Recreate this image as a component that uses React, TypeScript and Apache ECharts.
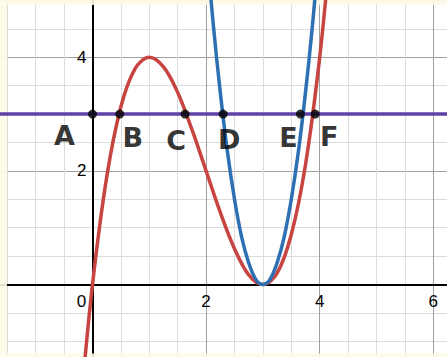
import React, { useEffect, useRef } from "react";
import * as echarts from "echarts";

// Cubic curve (red), sampled along x
const redX = [-0.2, 0, 0.25, 0.5, 0.75, 1, 1.25, 1.5, 1.75, 2, 2.25, 2.5, 2.75, 3, 3.25, 3.5, 3.75, 4, 4.2];
const redY = [-2.05, 0, 1.89, 3.13, 3.8, 4, 3.83, 3.38, 2.73, 2, 1.27, 0.63, 0.17, 0, 0.2, 0.88, 2.11, 4, 6.05];

// Parabola (blue), sampled along x
const blueX = [2, 2.125, 2.25, 2.375, 2.5, 2.625, 2.75, 2.875, 3, 3.125, 3.25, 3.375, 3.5, 3.625, 3.75, 3.875, 4];
const blueY = [6, 4.59, 3.38, 2.34, 1.5, 0.84, 0.38, 0.09, 0, 0.09, 0.38, 0.84, 1.5, 2.34, 3.38, 4.59, 6];

// Horizontal line (purple)
const levelY = 3;

// Marked intersection points on the horizontal line
const pointNames = ["A", "B", "C", "D", "E", "F"];
const pointX = [0, 0.48, 1.63, 2.3, 3.66, 3.92];

// Axis tick labels
const xTickLabels = [0, 2, 4, 6];
const yTickLabels = [2, 4];

// Hand-placed label offsets (px) for each point letter
const labelOffsets: Record<string, [number, number]> = {
  A: [-28, 21],
  B: [13, 23],
  C: [-9, 26],
  D: [6, 25],
  E: [-12, 23],
  F: [14, 22],
};

const W = 447;
const H = 357;

const RED = "#c74440";
const BLUE = "#2d70b3";
const PURPLE = "#6042a6";
const CREAM = "#fdf9e7";
const FONT = "'Liberation Sans', Arial, sans-serif";

export default function App() {
  const ref = useRef<HTMLDivElement>(null);

  useEffect(() => {
    if (!ref.current) return;
    const chart = echarts.init(ref.current, undefined, { renderer: "svg" });

    const creamStrips = [
      { id: "stripTop", type: "rect", z: 1, shape: { x: 0, y: 0, width: W, height: 5 }, style: { fill: CREAM, opacity: 0.9 } },
      { id: "stripLeft", type: "rect", z: 1, shape: { x: 0, y: 5, width: 7, height: H - 5 }, style: { fill: CREAM, opacity: 0.9 } },
      { id: "stripBottom", type: "rect", z: 1, shape: { x: 7, y: 353.5, width: W - 7, height: 4 }, style: { fill: CREAM, opacity: 0.9 } },
    ];

    const axisCommon = {
      type: "value",
      interval: 2,
      axisLine: { onZero: true, lineStyle: { color: "#000", width: 2 } },
      axisTick: { show: false },
      axisLabel: { show: false },
      splitLine: { show: true, lineStyle: { color: "#a0a0a0", width: 1 } },
      minorTick: { show: false, splitNumber: 4 },
      minorSplitLine: { show: true, lineStyle: { color: "#dcdcdc", width: 1 } },
    };

    chart.setOption({
      animation: false,
      backgroundColor: "#ffffff",
      grid: {
        left: -21.1,
        right: -99.9,
        top: -56.3,
        bottom: -41.1,
        containLabel: false,
        outerBoundsMode: "none",
      },
      xAxis: { ...axisCommon, min: -2, max: 8 },
      yAxis: { ...axisCommon, min: -2, max: 6 },
      graphic: creamStrips,
      series: [
        {
          type: "line",
          z: 3,
          data: redX.map((x, i) => [x, redY[i]]),
          smooth: 0.35,
          showSymbol: false,
          lineStyle: { color: RED, width: 3.5 },
        },
        {
          type: "line",
          z: 4,
          data: blueX.map((x, i) => [x, blueY[i]]),
          smooth: 0.35,
          showSymbol: false,
          lineStyle: { color: BLUE, width: 3.5 },
        },
        {
          type: "line",
          z: 5,
          data: [
            [-2, levelY],
            [8, levelY],
          ],
          showSymbol: false,
          lineStyle: { color: PURPLE, width: 3.5 },
        },
        {
          type: "scatter",
          z: 6,
          symbol: "circle",
          symbolSize: 9,
          itemStyle: { color: "#000" },
          data: pointNames.map((name, i) => ({
            value: [pointX[i], levelY],
            name,
            label: {
              show: true,
              position: "inside",
              offset: labelOffsets[name],
              formatter: name,
              color: "#000",
              fontSize: 27,
              fontWeight: "bold",
              fontFamily: "'DejaVu Sans', sans-serif",
            },
          })),
        },
      ],
    });

    // Tick labels sit next to the axes that cross at the origin
    const tickStyle = {
      fill: "#000",
      fontSize: 17,
      fontFamily: FONT,
    };
    const tickTexts: any[] = [];
    xTickLabels.forEach((v) => {
      const [px, py] = chart.convertToPixel({ gridIndex: 0 }, [v, 0]) as number[];
      tickTexts.push({
        id: "xt" + v,
        type: "text",
        z: 10,
        x: px + (v === 0 ? -11 : 0),
        y: py + 8,
        style: { ...tickStyle, text: String(v), align: "center", verticalAlign: "top" },
      });
    });
    yTickLabels.forEach((v) => {
      const [px, py] = chart.convertToPixel({ gridIndex: 0 }, [0, v]) as number[];
      tickTexts.push({
        id: "yt" + v,
        type: "text",
        z: 10,
        x: px - 6,
        y: py,
        style: { ...tickStyle, text: String(v), align: "right", verticalAlign: "middle" },
      });
    });
    chart.setOption({ graphic: [...creamStrips, ...tickTexts] });

    return () => chart.dispose();
  }, []);

  return (
    <div
      ref={ref}
      style={{ position: "absolute", left: 0, top: 0, width: W, height: H, background: "#fff" }}
    />
  );
}
